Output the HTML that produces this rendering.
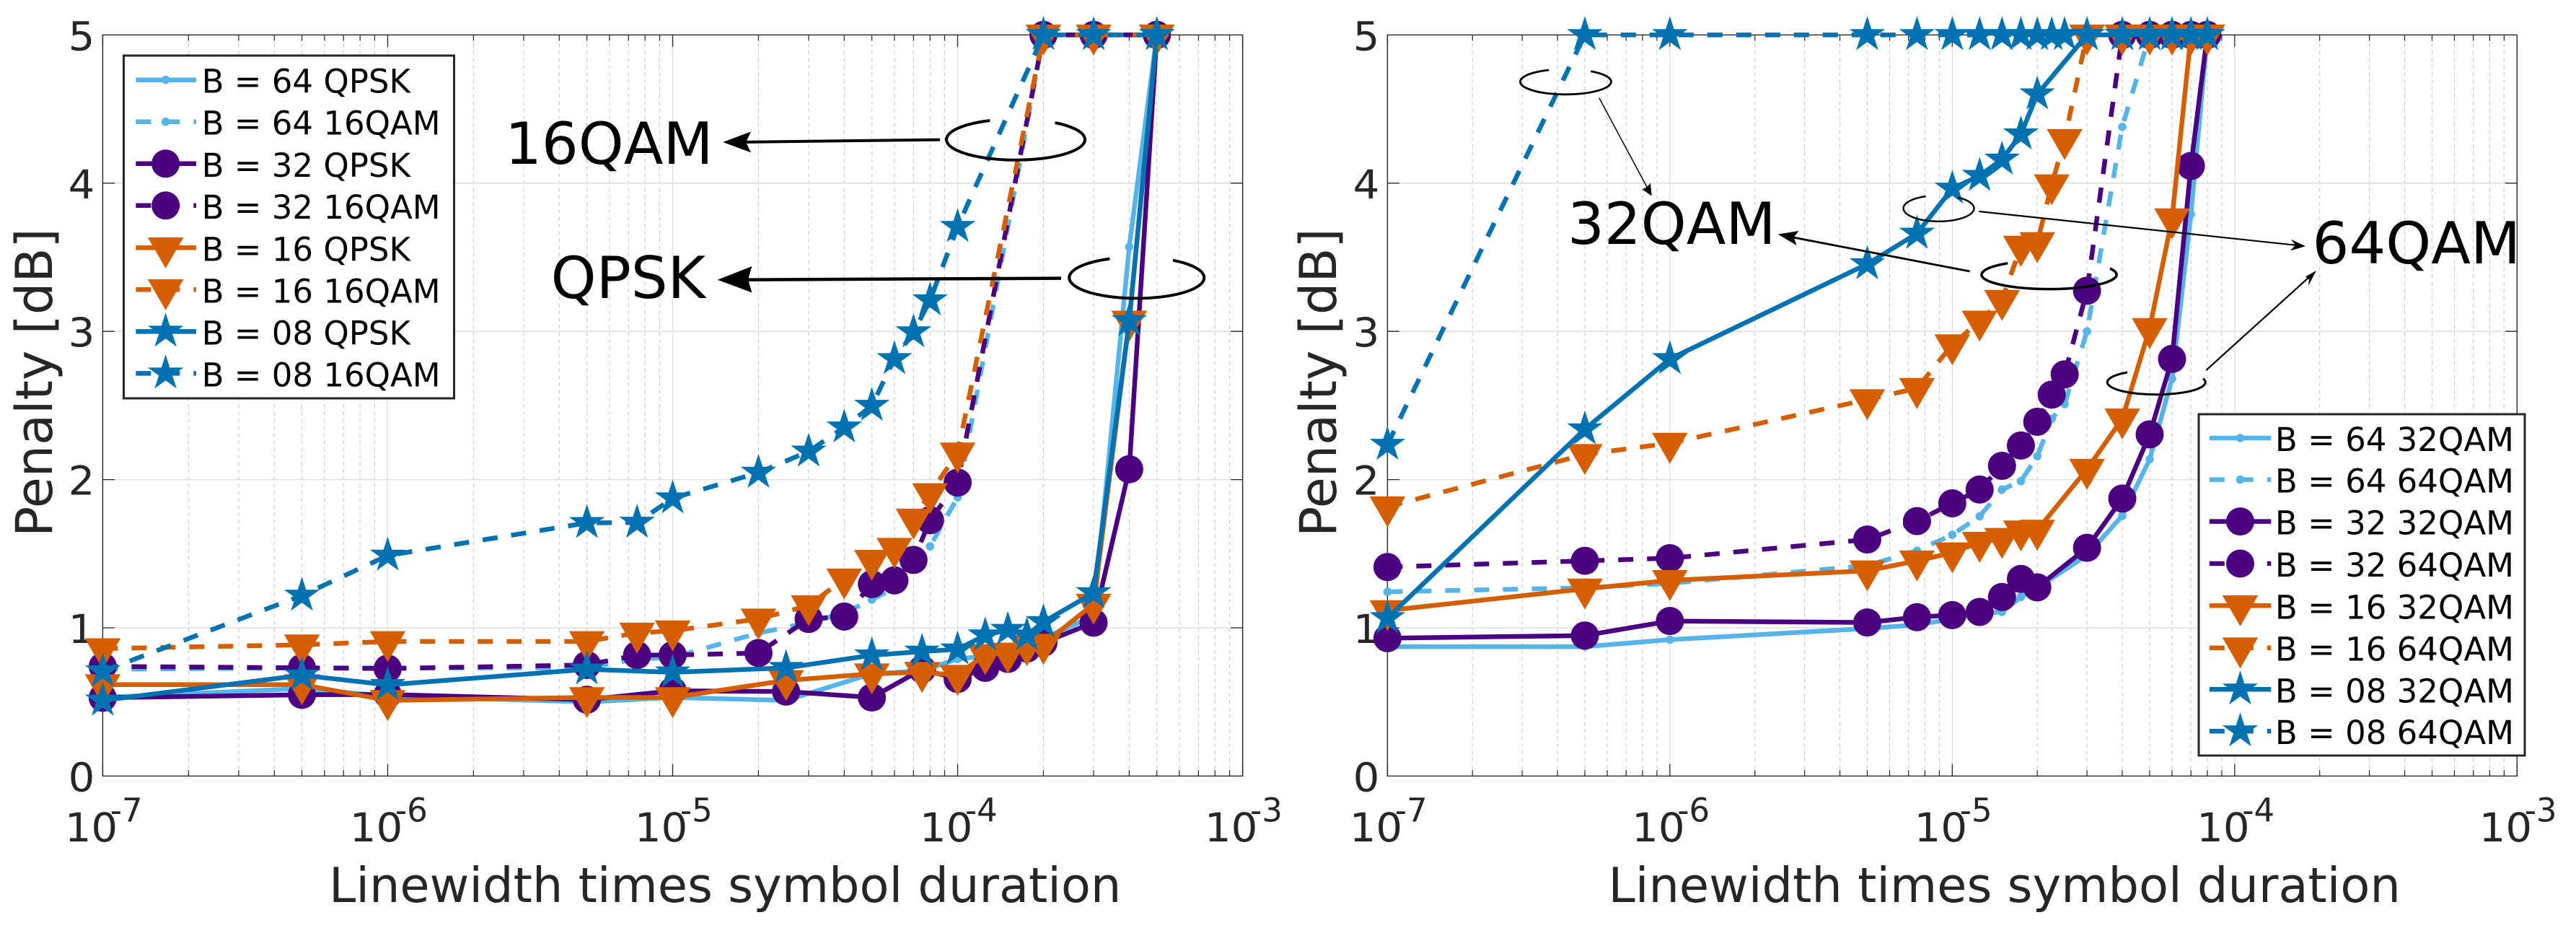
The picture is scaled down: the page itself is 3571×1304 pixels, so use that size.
<!DOCTYPE html>
<html lang="en">
<head>
<meta charset="utf-8">
<title>Penalty vs linewidth times symbol duration</title>
<style>
html,body{margin:0;padding:0;background:#fff;}
svg{display:block;}
text{font-family:"DejaVu Sans","Liberation Sans",sans-serif;}
.tick{fill:#262626;font-size:55px;}
.sup{fill:#262626;font-size:45px;}
.title{fill:#262626;font-size:67px;}
.ytitle{fill:#262626;font-size:70px;}
.leg{fill:#000;font-size:45px;}
.ann{fill:#000;font-size:80px;}
</style>
</head>
<body>
<svg id="figure" xmlns="http://www.w3.org/2000/svg" width="3571" height="1304" viewBox="0 0 3571 1304">
  <rect x="0" y="0" width="3571" height="1304" fill="#fff"/>

  <g id="panel-left"></g>
  <g id="panel-right"></g>

  <text class="title" x="456" y="1250">Linewidth times symbol duration</text>
  <text class="ytitle" transform="translate(72 744) rotate(-90)">Penalty [dB]</text>
  <text class="title" x="2229.5" y="1250">Linewidth times symbol duration</text>
  <text class="ytitle" transform="translate(1852 744) rotate(-90)">Penalty [dB]</text>

  <!-- Left legend -->
  <g>
    <rect x="171.5" y="77" width="458" height="475" fill="#fff" stroke="#262626" stroke-width="3"/>
    <g id="legend-left-swatches"></g>
    <text class="leg" x="279.6" y="128.7">B = 64 QPSK</text>
    <text class="leg" x="279.6" y="186.7">B = 64 16QAM</text>
    <text class="leg" x="279.6" y="244.8">B = 32 QPSK</text>
    <text class="leg" x="279.6" y="302.8">B = 32 16QAM</text>
    <text class="leg" x="279.6" y="361.3">B = 16 QPSK</text>
    <text class="leg" x="279.6" y="419.3">B = 16 16QAM</text>
    <text class="leg" x="279.6" y="477.4">B = 08 QPSK</text>
    <text class="leg" x="279.6" y="535.4">B = 08 16QAM</text>
  </g>

  <!-- Right legend -->
  <g>
    <rect x="3048" y="574" width="452" height="473" fill="#fff" stroke="#262626" stroke-width="3"/>
    <g id="legend-right-swatches"></g>
    <text class="leg" x="3153.9" y="625">B = 64 32QAM</text>
    <text class="leg" x="3153.9" y="682.6">B = 64 64QAM</text>
    <text class="leg" x="3153.9" y="740.6">B = 32 32QAM</text>
    <text class="leg" x="3153.9" y="799">B = 32 64QAM</text>
    <text class="leg" x="3153.9" y="857.3">B = 16 32QAM</text>
    <text class="leg" x="3153.9" y="915.7">B = 16 64QAM</text>
    <text class="leg" x="3153.9" y="973.3">B = 08 32QAM</text>
    <text class="leg" x="3153.9" y="1031.2">B = 08 64QAM</text>
  </g>

  <!-- Left annotations -->
  <g fill="none" stroke="#000">
    <path d="M1462.6 170 A96 28.4 0 1 1 1372.4 167" stroke-width="4"/>
    <line x1="1303" y1="193.6" x2="1025" y2="197" stroke-width="4"/>
    <polygon points="1002.2,197 1041,182.4 1034,197 1041,211.4" fill="#000" stroke="none"/>
    <path d="M1626 360.7 A93.5 28.6 0 1 1 1538.4 358.6" stroke-width="4"/>
    <line x1="1471" y1="385.6" x2="1025" y2="387.7" stroke-width="4.5"/>
    <polygon points="994.7,387.7 1042.4,369 1037,387.5 1042.4,405.5" fill="#000" stroke="none"/>
  </g>
  <text class="ann" x="700" y="227">16QAM</text>
  <text class="ann" x="763.6" y="413">QPSK</text>

  <!-- Right annotations -->
  <g fill="none" stroke="#000">
    <path d="M2205.3 98.7 A63 17.5 0 1 1 2147.3 97" stroke-width="2.8"/>
    <line x1="2216.8" y1="135.6" x2="2284" y2="261" stroke-width="1.5"/>
    <polygon points="2289.7,271.6 2276.5,262.4 2283,259.3 2288,253.7" fill="#000" stroke="none"/>
    <path d="M2925 372 A93.6 20 0 1 1 2783.3 364.8" stroke-width="3.5"/>
    <line x1="2730.6" y1="376" x2="2486" y2="329" stroke-width="2.8"/>
    <polygon points="2464.7,324.6 2493.5,320 2486.6,328.8 2490.6,340" fill="#000" stroke="none"/>
    <path d="M2714 273.6 A49 18 0 1 1 2669.7 272" stroke-width="2.4"/>
    <line x1="2743.3" y1="293" x2="3182" y2="339.7" stroke-width="2.2"/>
    <polygon points="3196,341.2 3176,331.7 3182,339.7 3175,347.4" fill="#000" stroke="none"/>
    <path d="M3054 524.5 A68 17 0 1 1 2949 516" stroke-width="3"/>
    <line x1="3058.3" y1="513" x2="3201" y2="384" stroke-width="2.2"/>
    <polygon points="3211,375 3196,383.5 3201,387 3200,396" fill="#000" stroke="none"/>
  </g>
  <text class="ann" x="2173" y="338">32QAM</text>
  <text class="ann" x="3205.5" y="365">64QAM</text>
</svg>

<script>
// ---- shared axis data ----
const yTickValues = [0, 1, 2, 3, 4, 5];
const xTickExponents = [-7, -6, -5, -4, -3];

// ---- left plot data ----
const xQpsk = [1e-7, 5e-7, 1e-6, 5e-6, 1e-5, 2.5e-5, 5e-5, 7.5e-5, 1e-4, 1.25e-4, 1.5e-4, 1.75e-4, 2e-4, 3e-4, 4e-4, 5e-4];
const b64Qpsk = [0.53, 0.59, 0.54, 0.50, 0.53, 0.51, 0.69, 0.71, 0.79, 0.81, 0.87, 0.88, 0.93, 1.08, 3.57, 5];
const b32Qpsk = [0.528, 0.548, 0.55, 0.515, 0.575, 0.57, 0.53, 0.72, 0.655, 0.73, 0.79, 0.86, 0.90, 1.035, 2.07, 5];
const b16Qpsk = [0.617, 0.617, 0.51, 0.53, 0.53, 0.645, 0.69, 0.70, 0.68, 0.82, 0.83, 0.88, 0.89, 1.16, 3.07, 5];
const b08Qpsk = [0.51, 0.68, 0.615, 0.72, 0.70, 0.73, 0.815, 0.84, 0.855, 0.95, 0.987, 0.95, 1.04, 1.235, 3.07, 5];

const x16Qam = [1e-7, 5e-7, 1e-6, 5e-6, 7.5e-6, 1e-5, 2e-5, 3e-5, 4e-5, 5e-5, 6e-5, 7e-5, 8e-5, 1e-4, 2e-4, 3e-4, 5e-4];
const b6416Qam = [0.72, 0.73, 0.73, 0.73, 0.79, 0.80, 0.965, 1.035, 1.10, 1.19, 1.27, 1.46, 1.55, 1.88, 5, 5, 5];
const b3216Qam = [0.74, 0.73, 0.725, 0.75, 0.816, 0.816, 0.83, 1.06, 1.076, 1.295, 1.32, 1.458, 1.726, 1.98, 5, 5, 5];
const b1616Qam = [0.86, 0.885, 0.908, 0.908, 0.965, 0.98, 1.06, 1.15, 1.33, 1.456, 1.537, 1.734, 1.906, 2.18, 5, 5, 5];
const b0816Qam = [0.707, 1.218, 1.488, 1.708, 1.71, 1.874, 2.047, 2.19, 2.353, 2.499, 2.814, 2.995, 3.21, 3.706, 5, 5, 5];

// ---- right plot data ----
const x32Qam = [1e-7, 5e-7, 1e-6, 5e-6, 7.5e-6, 1e-5, 1.25e-5, 1.5e-5, 1.75e-5, 2e-5, 3e-5, 4e-5, 5e-5, 6e-5, 7e-5, 8e-5];
const b6432Qam = [0.873, 0.873, 0.92, 0.995, 1.02, 1.06, 1.096, 1.107, 1.208, 1.27, 1.49, 1.756, 2.137, 2.68, 3.79, 5];
const b3232Qam = [0.93, 0.948, 1.046, 1.036, 1.072, 1.086, 1.107, 1.208, 1.33, 1.273, 1.54, 1.872, 2.305, 2.814, 4.116, 5];
const b1632Qam = [1.117, 1.263, 1.32, 1.385, 1.452, 1.507, 1.578, 1.604, 1.655, 1.659, 2.07, 2.41, 3.02, 3.76, 5, 5];
const b0832Qam = [1.066, 2.34, 2.814, 3.454, 3.66, 3.964, 4.05, 4.16, 4.33, 4.6, 5, 5, 5, 5, 5, 5];

const x64Qam = [1e-7, 5e-7, 1e-6, 5e-6, 7.5e-6, 1e-5, 1.25e-5, 1.5e-5, 1.75e-5, 2e-5, 2.25e-5, 2.5e-5, 3e-5, 4e-5, 5e-5, 6e-5, 7e-5, 8e-5];
const b6464Qam = [1.243, 1.27, 1.30, 1.42, 1.52, 1.628, 1.752, 1.933, 1.99, 2.158, 2.41, 2.51, 3.0, 4.38, 5, 5, 5, 5];
const b3264Qam = [1.41, 1.452, 1.47, 1.596, 1.72, 1.84, 1.933, 2.093, 2.23, 2.39, 2.573, 2.71, 3.274, 5, 5, 5, 5, 5];
const b1664Qam = [1.817, 2.17, 2.246, 2.54, 2.616, 2.91, 3.07, 3.21, 3.575, 3.6, 3.99, 4.295, 5, 5, 5, 5, 5, 5];
const b0864Qam = [2.236, 5, 5, 5, 5, 5, 5, 5, 5, 5, 5, 5, 5, 5, 5, 5, 5, 5];

const NS = 'http://www.w3.org/2000/svg';
const LIGHT = '#56B4E9', INDIGO = '#4B0082', ORANGE = '#D55E00', BLUE = '#0072B2';
const DASH = '21 19';
const LINE_W = 6.5;

function make(tag, parent, name, attrs) {
  const el = document.createElementNS(NS, tag);
  for (const k in attrs) el.setAttribute(k, attrs[k]);
  
  
  parent.appendChild(el);
  return el;
}

function drawMarker(parent, kind, cx, cy, color, name) {
  if (kind === 'dot' || kind === 'circle') {
    const r = kind === 'dot' ? 5.8 : 19.5;
    make('circle', parent, name, {cx: cx, cy: cy, r: r, fill: color});
    return;
  }
  const pts = [];
  if (kind === 'tri') {
    const R = 28.6;
    pts.push([cx - R * 0.866, cy - R / 2], [cx + R * 0.866, cy - R / 2], [cx, cy + R]);
  } else {
    const R = 26, r = R * 0.382;
    for (let i = 0; i < 10; i++) {
      const a = -Math.PI / 2 + i * Math.PI / 5;
      const rad = i % 2 ? r : R;
      pts.push([cx + rad * Math.cos(a), cy + rad * Math.sin(a)]);
    }
  }
  make('polygon', parent, name, {points: pts.map(p => p[0].toFixed(1) + ',' + p[1].toFixed(1)).join(' '), fill: color});
}

function makeAxes(box) {
  const sx = v => box.x0 + (Math.log10(v) + 7) / 4 * (box.x1 - box.x0);
  const sy = v => box.y0 - v / 5 * (box.y0 - box.y1);
  return {sx: sx, sy: sy, box: box};
}

function drawAxes(parent, axes, prefix) {
  const b = axes.box;
  const grid = make('g', parent, prefix + '-grid', {});
  // minor vertical grid and ticks
  for (let i = 0; i < xTickExponents.length - 1; i++) {
    for (let m = 2; m <= 9; m++) {
      const x = axes.sx(m * Math.pow(10, xTickExponents[i]));
      make('line', grid, prefix + '-minor-gridline', {x1: x, x2: x, y1: b.y0, y2: b.y1, stroke: '#c6c6c6', 'stroke-width': 1.1, 'stroke-dasharray': '5 5'});
      make('line', grid, prefix + '-minor-tick-bottom', {x1: x, x2: x, y1: b.y0, y2: b.y0 - 8.3, stroke: '#262626', 'stroke-width': 1.2});
      make('line', grid, prefix + '-minor-tick-top', {x1: x, x2: x, y1: b.y1, y2: b.y1 + 8.3, stroke: '#262626', 'stroke-width': 1.2});
    }
  }
  // major vertical grid, ticks, labels
  xTickExponents.forEach(function (e) {
    const x = axes.sx(Math.pow(10, e));
    make('line', grid, prefix + '-major-gridline', {x1: x, x2: x, y1: b.y0, y2: b.y1, stroke: '#dedede', 'stroke-width': 1.3});
    make('line', grid, prefix + '-major-tick-bottom', {x1: x, x2: x, y1: b.y0, y2: b.y0 - 16.5, stroke: '#262626', 'stroke-width': 1.3});
    make('line', grid, prefix + '-major-tick-top', {x1: x, x2: x, y1: b.y1, y2: b.y1 + 16.5, stroke: '#262626', 'stroke-width': 1.3});
    const base = make('text', parent, prefix + '-x-tick-base', {'class': 'tick', transform: 'translate(' + (x - 52.7) + ' 1166) scale(1.05 1)'});
    base.textContent = '10';
    const sup = make('text', parent, prefix + '-x-tick-exponent', {x: x + 10.4, y: 1138.5, 'class': 'sup'});
    sup.textContent = String(e);
  });
  // horizontal grid, ticks, labels
  yTickValues.forEach(function (v) {
    const y = axes.sy(v);
    if (v > 0 && v < 5) {
      make('line', grid, prefix + '-horizontal-gridline', {x1: b.x0, x2: b.x1, y1: y, y2: y, stroke: '#dedede', 'stroke-width': 1.5});
      make('line', grid, prefix + '-y-tick-left', {x1: b.x0, x2: b.x0 + 16.5, y1: y, y2: y, stroke: '#262626', 'stroke-width': 1.3});
      make('line', grid, prefix + '-y-tick-right', {x1: b.x1, x2: b.x1 - 16.5, y1: y, y2: y, stroke: '#262626', 'stroke-width': 1.3});
    }
    const t = make('text', parent, prefix + '-y-tick-label', {'class': 'tick', 'text-anchor': 'end', transform: 'translate(' + (b.x0 - 11) + ' ' + (y + 21) + ') scale(1.05 1)'});
    t.textContent = String(v);
  });
  make('rect', parent, prefix + '-axes-box', {x: b.x0, y: b.y1, width: b.x1 - b.x0, height: b.y0 - b.y1, fill: 'none', stroke: '#262626', 'stroke-width': 1.4});
}

function drawSeries(parent, axes, name, xs, ys, color, dashed, kind) {
  const g = make('g', parent, name, {});
  const pts = xs.map((x, i) => axes.sx(x).toFixed(1) + ',' + axes.sy(ys[i]).toFixed(1)).join(' ');
  const attrs = {points: pts, fill: 'none', stroke: color, 'stroke-width': LINE_W, 'stroke-linejoin': 'round'};
  if (dashed) attrs['stroke-dasharray'] = DASH;
  make('polyline', g, name + '-line', attrs);
  xs.forEach(function (x, i) {
    drawMarker(g, kind, axes.sx(x), axes.sy(ys[i]), color, name + '-point');
  });
}

function drawSwatch(parent, name, x0, x1, cx, y, color, dashed, kind) {
  const attrs = {x1: x0, x2: x1, y1: y, y2: y, stroke: color, 'stroke-width': LINE_W};
  if (dashed) attrs['stroke-dasharray'] = DASH;
  make('line', parent, name + '-swatch-line', attrs);
  drawMarker(parent, kind, cx, y, color, name + '-swatch-marker');
}

const leftAxes = makeAxes({x0: 142.4, x1: 1722.6, y0: 1075.4, y1: 48.4});
const rightAxes = makeAxes({x0: 1923.4, x1: 3489.3, y0: 1075.4, y1: 48.4});
const panelLeft = document.getElementById('panel-left');
const panelRight = document.getElementById('panel-right');

drawAxes(panelLeft, leftAxes, 'left');
drawSeries(panelLeft, leftAxes, 'series-b64-qpsk', xQpsk, b64Qpsk, LIGHT, false, 'dot');
drawSeries(panelLeft, leftAxes, 'series-b64-16qam', x16Qam, b6416Qam, LIGHT, true, 'dot');
drawSeries(panelLeft, leftAxes, 'series-b32-qpsk', xQpsk, b32Qpsk, INDIGO, false, 'circle');
drawSeries(panelLeft, leftAxes, 'series-b32-16qam', x16Qam, b3216Qam, INDIGO, true, 'circle');
drawSeries(panelLeft, leftAxes, 'series-b16-qpsk', xQpsk, b16Qpsk, ORANGE, false, 'tri');
drawSeries(panelLeft, leftAxes, 'series-b16-16qam', x16Qam, b1616Qam, ORANGE, true, 'tri');
drawSeries(panelLeft, leftAxes, 'series-b08-qpsk', xQpsk, b08Qpsk, BLUE, false, 'star');
drawSeries(panelLeft, leftAxes, 'series-b08-16qam', x16Qam, b0816Qam, BLUE, true, 'star');

drawAxes(panelRight, rightAxes, 'right');
drawSeries(panelRight, rightAxes, 'series-b64-32qam', x32Qam, b6432Qam, LIGHT, false, 'dot');
drawSeries(panelRight, rightAxes, 'series-b64-64qam', x64Qam, b6464Qam, LIGHT, true, 'dot');
drawSeries(panelRight, rightAxes, 'series-b32-32qam', x32Qam, b3232Qam, INDIGO, false, 'circle');
drawSeries(panelRight, rightAxes, 'series-b32-64qam', x64Qam, b3264Qam, INDIGO, true, 'circle');
drawSeries(panelRight, rightAxes, 'series-b16-32qam', x32Qam, b1632Qam, ORANGE, false, 'tri');
drawSeries(panelRight, rightAxes, 'series-b16-64qam', x64Qam, b1664Qam, ORANGE, true, 'tri');
drawSeries(panelRight, rightAxes, 'series-b08-32qam', x32Qam, b0832Qam, BLUE, false, 'star');
drawSeries(panelRight, rightAxes, 'series-b08-64qam', x64Qam, b0864Qam, BLUE, true, 'star');

const swL = document.getElementById('legend-left-swatches');
drawSwatch(swL, 'b64-qpsk', 188.3, 272, 229.6, 110.7, LIGHT, false, 'dot');
drawSwatch(swL, 'b64-16qam', 188.3, 272, 229.6, 168.7, LIGHT, true, 'dot');
drawSwatch(swL, 'b32-qpsk', 188.3, 272, 229.6, 226.8, INDIGO, false, 'circle');
drawSwatch(swL, 'b32-16qam', 188.3, 272, 229.6, 284.8, INDIGO, true, 'circle');
drawSwatch(swL, 'b16-qpsk', 188.3, 272, 229.6, 343.3, ORANGE, false, 'tri');
drawSwatch(swL, 'b16-16qam', 188.3, 272, 229.6, 401.3, ORANGE, true, 'tri');
drawSwatch(swL, 'b08-qpsk', 188.3, 272, 229.6, 459.4, BLUE, false, 'star');
drawSwatch(swL, 'b08-16qam', 188.3, 272, 229.6, 517.4, BLUE, true, 'star');

const swR = document.getElementById('legend-right-swatches');
drawSwatch(swR, 'b64-32qam', 3062.8, 3148.3, 3105.5, 607, LIGHT, false, 'dot');
drawSwatch(swR, 'b64-64qam', 3062.8, 3148.3, 3105.5, 664.6, LIGHT, true, 'dot');
drawSwatch(swR, 'b32-32qam', 3062.8, 3148.3, 3105.5, 722.6, INDIGO, false, 'circle');
drawSwatch(swR, 'b32-64qam', 3062.8, 3148.3, 3105.5, 781, INDIGO, true, 'circle');
drawSwatch(swR, 'b16-32qam', 3062.8, 3148.3, 3105.5, 839.3, ORANGE, false, 'tri');
drawSwatch(swR, 'b16-64qam', 3062.8, 3148.3, 3105.5, 897.7, ORANGE, true, 'tri');
drawSwatch(swR, 'b08-32qam', 3062.8, 3148.3, 3105.5, 955.3, BLUE, false, 'star');
drawSwatch(swR, 'b08-64qam', 3062.8, 3148.3, 3105.5, 1013.2, BLUE, true, 'star');
</script>
</body>
</html>
